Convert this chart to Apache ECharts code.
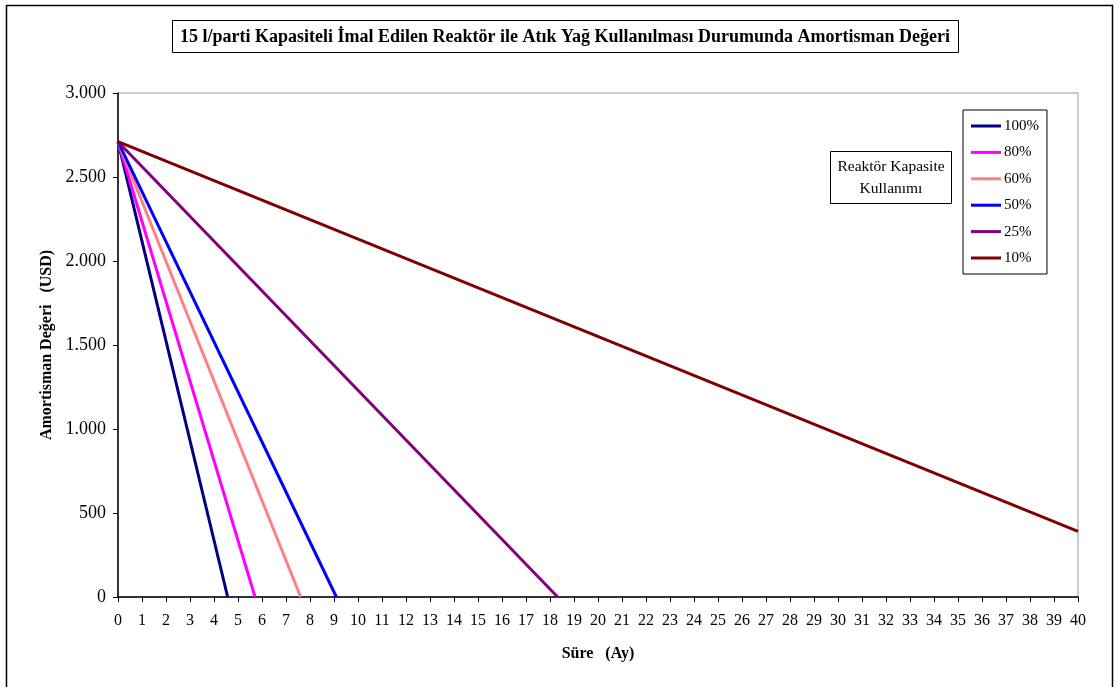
<!DOCTYPE html>
<html><head><meta charset="utf-8">
<script src="https://cdn.jsdelivr.net/npm/echarts@6/dist/echarts.min.js"></script>
<style>html,body{margin:0;padding:0;background:#fff}#c{width:1118px;height:687px}</style>
</head><body><div id="c"></div>
<script>
const seriesNames = ['100%', '80%', '60%', '50%', '25%', '10%'];
const seriesColors = ['#000080', '#FF00FF', '#FF8080', '#0000FF', '#800080', '#800000'];
// months (Ay) and values (USD) per series: start and end points
const months100 = [0, 4.57];  const values100 = [2710, 0];
const months80  = [0, 5.71];  const values80  = [2710, 0];
const months60  = [0, 7.61];  const values60  = [2710, 0];
const months50  = [0, 9.10];  const values50  = [2710, 0];
const months25  = [0, 18.32]; const values25  = [2710, 0];
const months10  = [0, 40];    const values10  = [2710, 390];
const xTicks = { min: 0, max: 40, step: 1 };
const yTicks = { min: 0, max: 3000, step: 500 };
const titleText = '15 l/parti Kapasiteli İmal Edilen Reaktör ile Atık Yağ Kullanılması Durumunda Amortisman Değeri';
const noteText = 'Reaktör Kapasite\nKullanımı';

const allMonths = [months100, months80, months60, months50, months25, months10];
const allValues = [values100, values80, values60, values50, values25, values10];

const FONT = '"Liberation Serif", "Times New Roman", serif';
const chart = echarts.init(document.getElementById('c'), null, { renderer: 'canvas' });

const series = seriesNames.map((n, i) => ({
  name: n, type: 'line', showSymbol: false, symbol: 'none',
  data: allMonths[i].map((m, j) => [m, allValues[i][j]]),
  lineStyle: { color: seriesColors[i], width: 3 },
  itemStyle: { color: seriesColors[i] },
  animation: false
}));

chart.setOption({
  animation: false,
  backgroundColor: '#fff',
  grid: { left: 118, top: 93, width: 960, height: 504, show: true, borderColor: '#999', borderWidth: 1, backgroundColor: 'transparent' },
  xAxis: {
    type: 'value', min: xTicks.min, max: xTicks.max, interval: xTicks.step,
    name: 'Süre   (Ay)', nameLocation: 'middle', nameGap: 49,
    nameTextStyle: { fontFamily: FONT, fontWeight: 'bold', fontSize: 16, color: '#000' },
    axisLine: { show: true, lineStyle: { color: '#000', width: 1.5 } },
    axisTick: { show: true, length: 5, lineStyle: { color: '#000' } },
    axisLabel: { fontFamily: FONT, fontSize: 16, color: '#000', margin: 16 },
    splitLine: { show: false }
  },
  yAxis: {
    type: 'value', min: yTicks.min, max: yTicks.max, interval: yTicks.step,
    name: 'Amortisman Değeri   (USD)', nameLocation: 'middle', nameGap: 63, nameRotate: 90,
    nameTextStyle: { fontFamily: FONT, fontWeight: 'bold', fontSize: 16, color: '#000' },
    axisLine: { show: true, lineStyle: { color: '#000', width: 1.5 } },
    axisTick: { show: true, length: 5, lineStyle: { color: '#000' } },
    axisLabel: { fontFamily: FONT, fontSize: 18, color: '#000', margin: 12,
      formatter: v => v >= 1000 ? Math.floor(v / 1000) + '.' + String(v % 1000).padStart(3, '0') : String(v) },
    splitLine: { show: false }
  },
  legend: {
    orient: 'vertical', left: 963, top: 110,
    data: seriesNames,
    icon: 'rect', itemWidth: 30, itemHeight: 3, itemGap: 10.4,
    backgroundColor: '#fff', borderColor: '#000', borderWidth: 1,
    padding: [8, 8, 8, 8],
    textStyle: { fontFamily: FONT, fontSize: 15, color: '#000', padding: [0, 0, 0, -2], height: 16, lineHeight: 16 }
  },
  graphic: [
    { type: 'rect', shape: { x: 6.5, y: 5.5, width: 1106, height: 700 }, style: { fill: 'none', stroke: '#000', lineWidth: 1.5 }, silent: true, z: -10 },
    { type: 'rect', shape: { x: 172.5, y: 20.5, width: 786, height: 32 }, style: { fill: '#fff', stroke: '#000', lineWidth: 1 }, z: 10 },
    { type: 'text', x: 565, y: 37, z: 11, style: { text: titleText, font: 'bold 18px ' + FONT, fill: '#000', align: 'center', verticalAlign: 'middle' } },
    { type: 'rect', shape: { x: 830.5, y: 151.5, width: 121, height: 52 }, style: { fill: '#fff', stroke: '#000', lineWidth: 1 }, z: 10 },
    { type: 'text', x: 891, y: 177.5, z: 11, style: { text: noteText, font: '15.5px ' + FONT, fill: '#000', align: 'center', verticalAlign: 'middle', lineHeight: 22 } }
  ],
  series: series
});
</script></body></html>
